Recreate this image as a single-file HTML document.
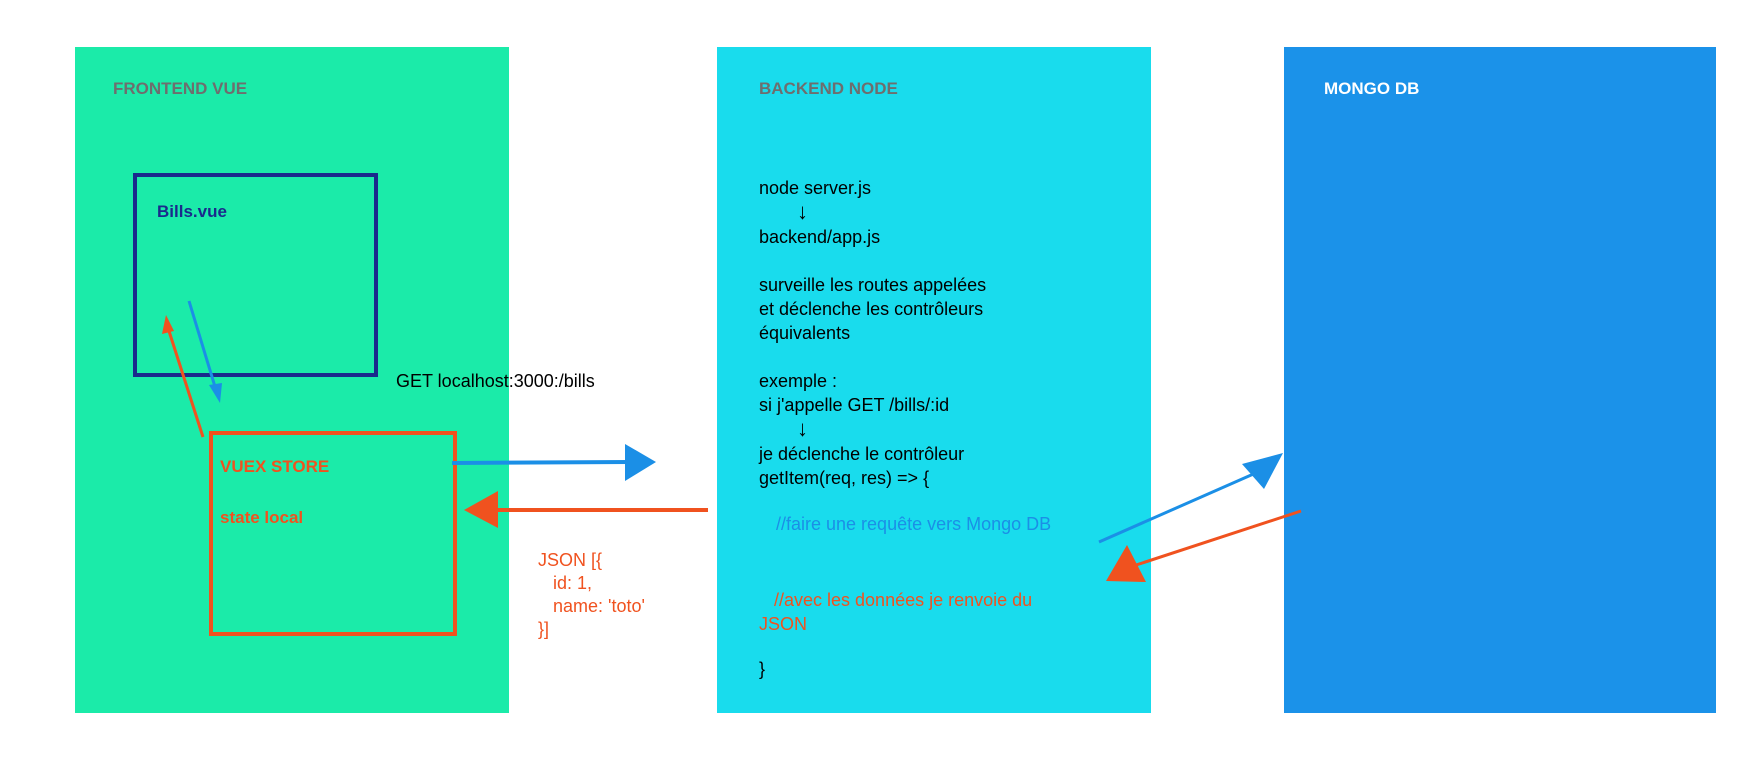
<!DOCTYPE html>
<html><head><meta charset="utf-8"><style>
body{margin:0;width:1757px;height:757px;background:#fff;position:relative;overflow:hidden;font-family:"Liberation Sans",sans-serif}
.p{position:absolute}
.t{position:absolute;white-space:nowrap;font-size:18px;line-height:18px}
.h{font-weight:bold;font-size:17px;color:#6e6e6e}
</style></head><body>
<div class="p" style="left:75px;top:47px;width:434px;height:666px;background:#1beba9"></div>
<div class="p" style="left:717px;top:47px;width:434px;height:666px;background:#19dced"></div>
<div class="p" style="left:1284px;top:47px;width:432px;height:666px;background:#1b92e9"></div>
<div class="t h" style="left:113px;top:80px">FRONTEND VUE</div>
<div class="t h" style="left:759px;top:80px">BACKEND NODE</div>
<div class="t h" style="left:1324px;top:80px;color:#fff">MONGO DB</div>
<div class="p" style="left:133px;top:173px;width:237px;height:196px;border:4px solid #1a2a8c"></div>
<div class="t" style="left:157px;top:203px;font-weight:bold;font-size:17px;color:#1a2a8c">Bills.vue</div>
<div class="p" style="left:209px;top:431px;width:240px;height:197px;border:4px solid #f0521f"></div>
<div class="t" style="left:220px;top:458px;font-weight:bold;font-size:17px;color:#f0521f">VUEX STORE</div>
<div class="t" style="left:220px;top:509px;font-weight:bold;font-size:17px;color:#f0521f">state local</div>
<div class="t" style="left:396px;top:372px">GET localhost:3000:/bills</div>
<div class="t" style="left:538px;top:549px;color:#f0521f;line-height:23px">JSON [{<br>&nbsp;&nbsp;&nbsp;id: 1,<br>&nbsp;&nbsp;&nbsp;name: 'toto'<br>}]</div>
<div class="t" style="left:759px;top:176px;line-height:24px">node server.js<br><span style="font-size:22px;padding-left:38px">↓</span><br>backend/app.js<br><br>surveille les routes appelées<br>et déclenche les contrôleurs<br>équivalents<br><br>exemple :<br>si j'appelle GET /bills/:id<br><span style="font-size:22px;padding-left:38px">↓</span><br>je déclenche le contrôleur<br>getItem(req, res) =&gt; {</div>
<div class="t" style="left:776px;top:515px;color:#1b8fe6">//faire une requête vers Mongo DB</div>
<div class="t" style="left:759px;top:588px;color:#f0521f;line-height:24px">&nbsp;&nbsp;&nbsp;//avec les données je renvoie du<br>JSON</div>
<div class="t" style="left:759px;top:660px">}</div>
<svg class="p" style="left:0;top:0" width="1757" height="757">
<g stroke-width="3" fill="none">
<line x1="189" y1="301" x2="216" y2="390" stroke="#1b8fe6"/>
<line x1="203" y1="437" x2="168" y2="328" stroke="#f0521f"/>
<line x1="452" y1="463" x2="630" y2="462" stroke="#1b8fe6" stroke-width="4"/>
<line x1="708" y1="510" x2="494" y2="510" stroke="#f0521f" stroke-width="4"/>
<line x1="1099" y1="542" x2="1258" y2="472" stroke="#1b8fe6"/>
<line x1="1301" y1="511" x2="1130" y2="567" stroke="#f0521f"/>
</g>
<polygon points="220,403 209,385 222,383" fill="#1b8fe6"/>
<polygon points="166,315 162,334 174,331" fill="#f0521f"/>
<polygon points="656,462 625,444 625,481" fill="#1b8fe6"/>
<polygon points="464,510 498,491 498,528" fill="#f0521f"/>
<polygon points="1283,453 1242,464 1264,489" fill="#1b8fe6"/>
<polygon points="1106,581 1127,545 1146,582" fill="#f0521f"/>
</svg>
</body></html>
